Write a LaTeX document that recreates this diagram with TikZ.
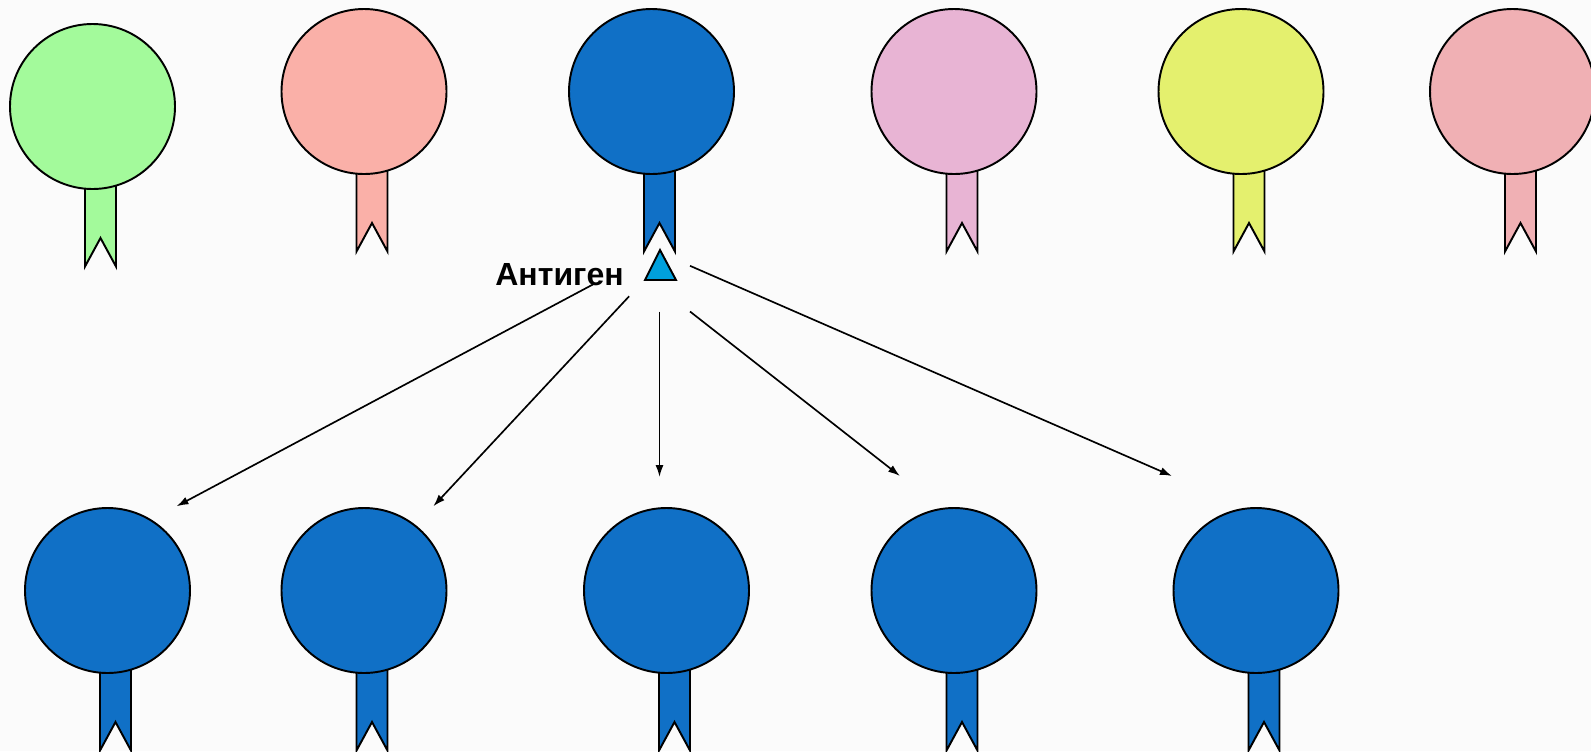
\documentclass[tikz,border=0pt]{standalone}
\usepackage{fontspec}
\setmainfont{Liberation Sans}
\usetikzlibrary{arrows.meta}
\definecolor{bgc}{HTML}{FBFBFB}
\definecolor{cgreen}{HTML}{A3FA9B}
\definecolor{csalmon}{HTML}{FAB0A8}
\definecolor{cblue}{HTML}{1070C6}
\definecolor{clilac}{HTML}{E8B4D4}
\definecolor{cyellow}{HTML}{E4F06E}
\definecolor{cpink}{HTML}{F0B0B4}
\definecolor{cantigen}{HTML}{00A0DC}
\newcommand{\cellbadge}[4]{%
  \filldraw[ribbon,fill=#4] ({#2-7.5},{#3}) -- ({#2+23.5},{#3}) -- ({#2+23.5},{#3+160}) -- ({#2+8},{#3+131.5}) -- ({#2-7.5},{#3+160}) -- cycle;
  \node[cell,fill=#4] (#1) at ({#2},{#3}) {};
}
\begin{document}
\begin{tikzpicture}[x=0.75pt,y=-0.75pt,
  cell/.style={circle,draw=black,line width=1.45pt,minimum size=123.75pt,inner sep=0pt},
  ribbon/.style={draw=black,line width=1.45pt,line join=miter},
  conn/.style={-{Latex[length=9pt,width=6pt]},line width=1.25pt},
  lbl/.style={font=\bfseries\fontsize{24}{28}\selectfont,anchor=base,inner sep=0pt}]
\fill[bgc] (0,0) rectangle (1591,751);
\useasboundingbox (0,0) rectangle (1591,751);
% top row
\cellbadge{t1}{92.5}{106.5}{cgreen}
\cellbadge{t2}{364}{91.5}{csalmon}
\cellbadge{t3}{651.5}{91.5}{cblue}
\cellbadge{t4}{954}{91.5}{clilac}
\cellbadge{t5}{1241}{91.5}{cyellow}
\cellbadge{t6}{1512.5}{91.5}{cpink}
% bottom row
\cellbadge{b1}{107.5}{590.5}{cblue}
\cellbadge{b2}{364}{590.5}{cblue}
\cellbadge{b3}{666.5}{590.5}{cblue}
\cellbadge{b4}{954}{590.5}{cblue}
\cellbadge{b5}{1256}{590.5}{cblue}
% antigen
\filldraw[draw=black,line width=1.45pt,fill=cantigen,line join=miter] (660,250) -- (676,280) -- (645,280) -- cycle;
\coordinate (ag) at (660,268);
\node[lbl] (lab) at (559.5,285) {Антиген};
% arrow ends
\coordinate (s1) at (593.6,284.1);
\coordinate (e1) at (176.5,506.3);
\coordinate (s2) at (629.1,296.3);
\coordinate (e2) at (433.3,506.3);
\coordinate (s3) at (659.5,311.5);
\coordinate (e3) at (659.5,477);
\coordinate (s4) at (690,311.5);
\coordinate (e4) at (900,476);
\coordinate (s5) at (690,265.8);
\coordinate (e5) at (1172,476);
\draw[conn] (s1) -- (e1);
\draw[conn] (s2) -- (e2);
\draw[conn] (s3) -- (e3);
\draw[conn] (s4) -- (e4);
\draw[conn] (s5) -- (e5);
\end{tikzpicture}
\end{document}
